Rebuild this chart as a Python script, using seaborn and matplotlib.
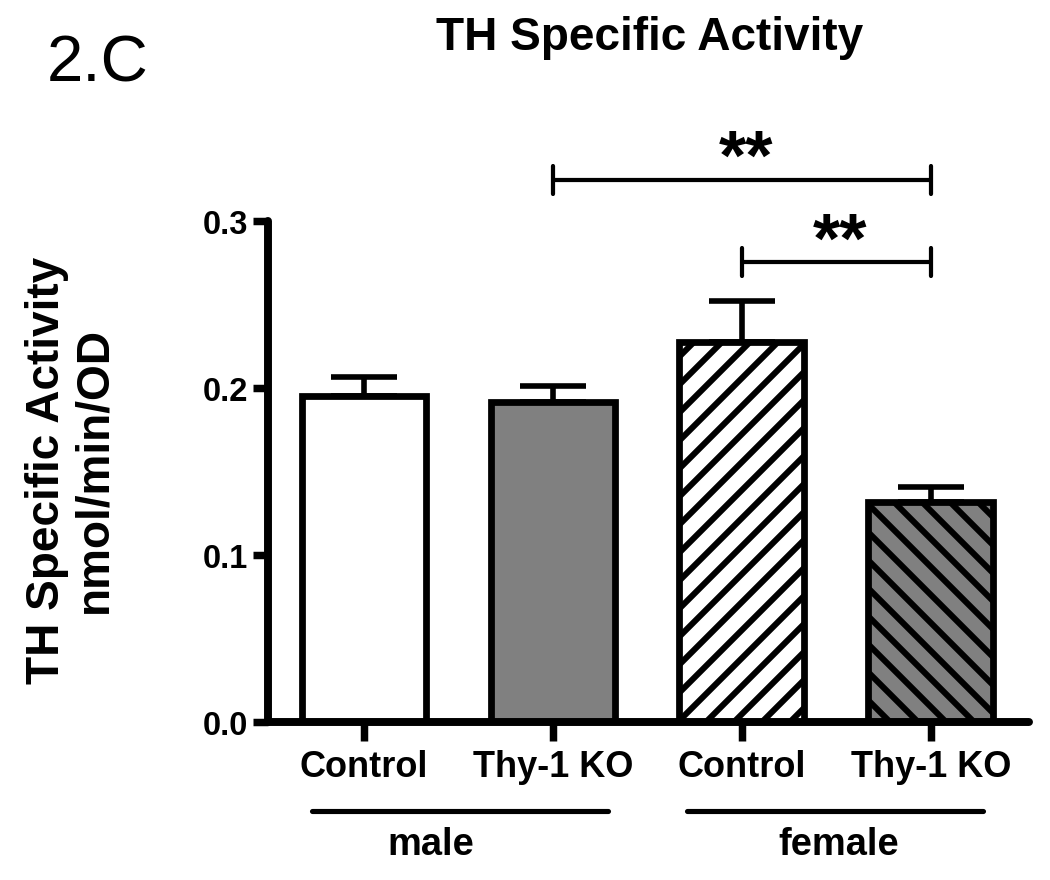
import numpy as np
import pandas as pd
import seaborn as sns
import matplotlib.pyplot as plt
import matplotlib.transforms as mtransforms

# values (mean +/- SEM)
sexes = ["male", "male", "female", "female"]
groups = ["Control", "Thy-1 KO", "Control", "Thy-1 KO"]
activity = [0.195, 0.1915, 0.2275, 0.132]
sem = [0.0114, 0.0096, 0.0246, 0.009]
fills = ["white", "#808080", "white", "#808080"]
hatches = ["", "", "//", "\\\\"]
yticks = [0.0, 0.1, 0.2, 0.3]

# significance brackets: (from bar, to bar, height, label)
brackets = [(1, 3, 0.3246, "**"), (2, 3, 0.2754, "**")]

sns.set_style("ticks")
plt.rcParams["font.family"] = ["Liberation Sans", "DejaVu Sans"]
plt.rcParams["hatch.linewidth"] = 2.6
for key in ["text.color", "axes.edgecolor", "axes.labelcolor", "xtick.color", "ytick.color"]:
    plt.rcParams[key] = "black"

df = pd.DataFrame({"sex": sexes, "group": groups, "activity": activity})
df["key"] = df["sex"] + " " + df["group"]

fig = plt.figure(figsize=(6.25, 881 / 168), dpi=168)
ax = fig.add_axes([268 / 1050, 1 - 723 / 881, 761 / 1050, 501 / 881])

sns.barplot(data=df, x="key", y="activity", hue="key", palette=fills,
            errorbar=None, width=0.66, edgecolor="black", linewidth=2.9,
            legend=False, ax=ax)
for patch, h in zip(ax.patches, hatches):
    patch.set_hatch(h)

pos = np.arange(len(activity))
ax.errorbar(pos, activity, yerr=[np.zeros(len(sem)), sem], fmt="none",
            ecolor="black", elinewidth=2.4, capsize=14, capthick=2.4, zorder=1)

ax.set_xlim(-0.508, 3.52)
ax.set_ylim(0, 0.3)
ax.set_yticks(yticks)
ax.set_yticklabels([f"{t:.1f}" for t in yticks], fontsize=14, fontweight="bold")
ax.set_xticks(pos)
ax.set_xticklabels(groups, fontsize=15.5, fontweight="bold")
ax.set_xlabel("")
ax.set_ylabel("")
ax.tick_params(axis="x", length=8, width=3.2, pad=3.5)
ax.tick_params(axis="y", length=6.5, width=3.2, pad=2)
sns.despine(ax=ax)
for s in ["left", "bottom"]:
    ax.spines[s].set_linewidth(3.4)
    ax.spines[s].set_capstyle("round")

# significance brackets
for x0, x1, y, label in brackets:
    ax.plot([x0, x1], [y, y], color="black", lw=1.8, clip_on=False)
    for xe in (x0, x1):
        ax.plot([xe, xe], [y - 0.0085, y + 0.0085], color="black", lw=1.8,
                solid_capstyle="round", clip_on=False)
    ax.text((x0 + x1) / 2 + 0.02, y + 0.0005, label, ha="center", va="baseline",
            fontsize=30, fontweight="bold", clip_on=False)

# sex group lines under the tick labels
trans = mtransforms.blended_transform_factory(ax.transData, ax.transAxes)
for x0, x1, xl, name in [(-0.275, 1.29, 0.354, "male"), (1.709, 3.275, 2.513, "female")]:
    ax.plot([x0, x1], [-0.1776, -0.1776], color="black", lw=2.2,
            solid_capstyle="round", transform=trans, clip_on=False)
    ax.text(xl, -0.2435, name, ha="center", va="center", fontsize=16.3,
            fontweight="bold", transform=trans)

fig.text(650 / 1050, 1 - 50 / 881, "TH Specific Activity", ha="center",
         va="baseline", fontsize=19.7, fontweight="bold")
fig.text(47 / 1050, 1 - 82 / 881, "2.C", ha="left", va="baseline", fontsize=28)
fig.text(71 / 1050, 1 - 470 / 881, "TH Specific Activity\nnmol/min/OD",
         rotation=90, ha="center", va="center", multialignment="center",
         fontsize=19.7, fontweight="bold", linespacing=1.1)

fig.savefig("out.png", dpi=168, facecolor="white")
